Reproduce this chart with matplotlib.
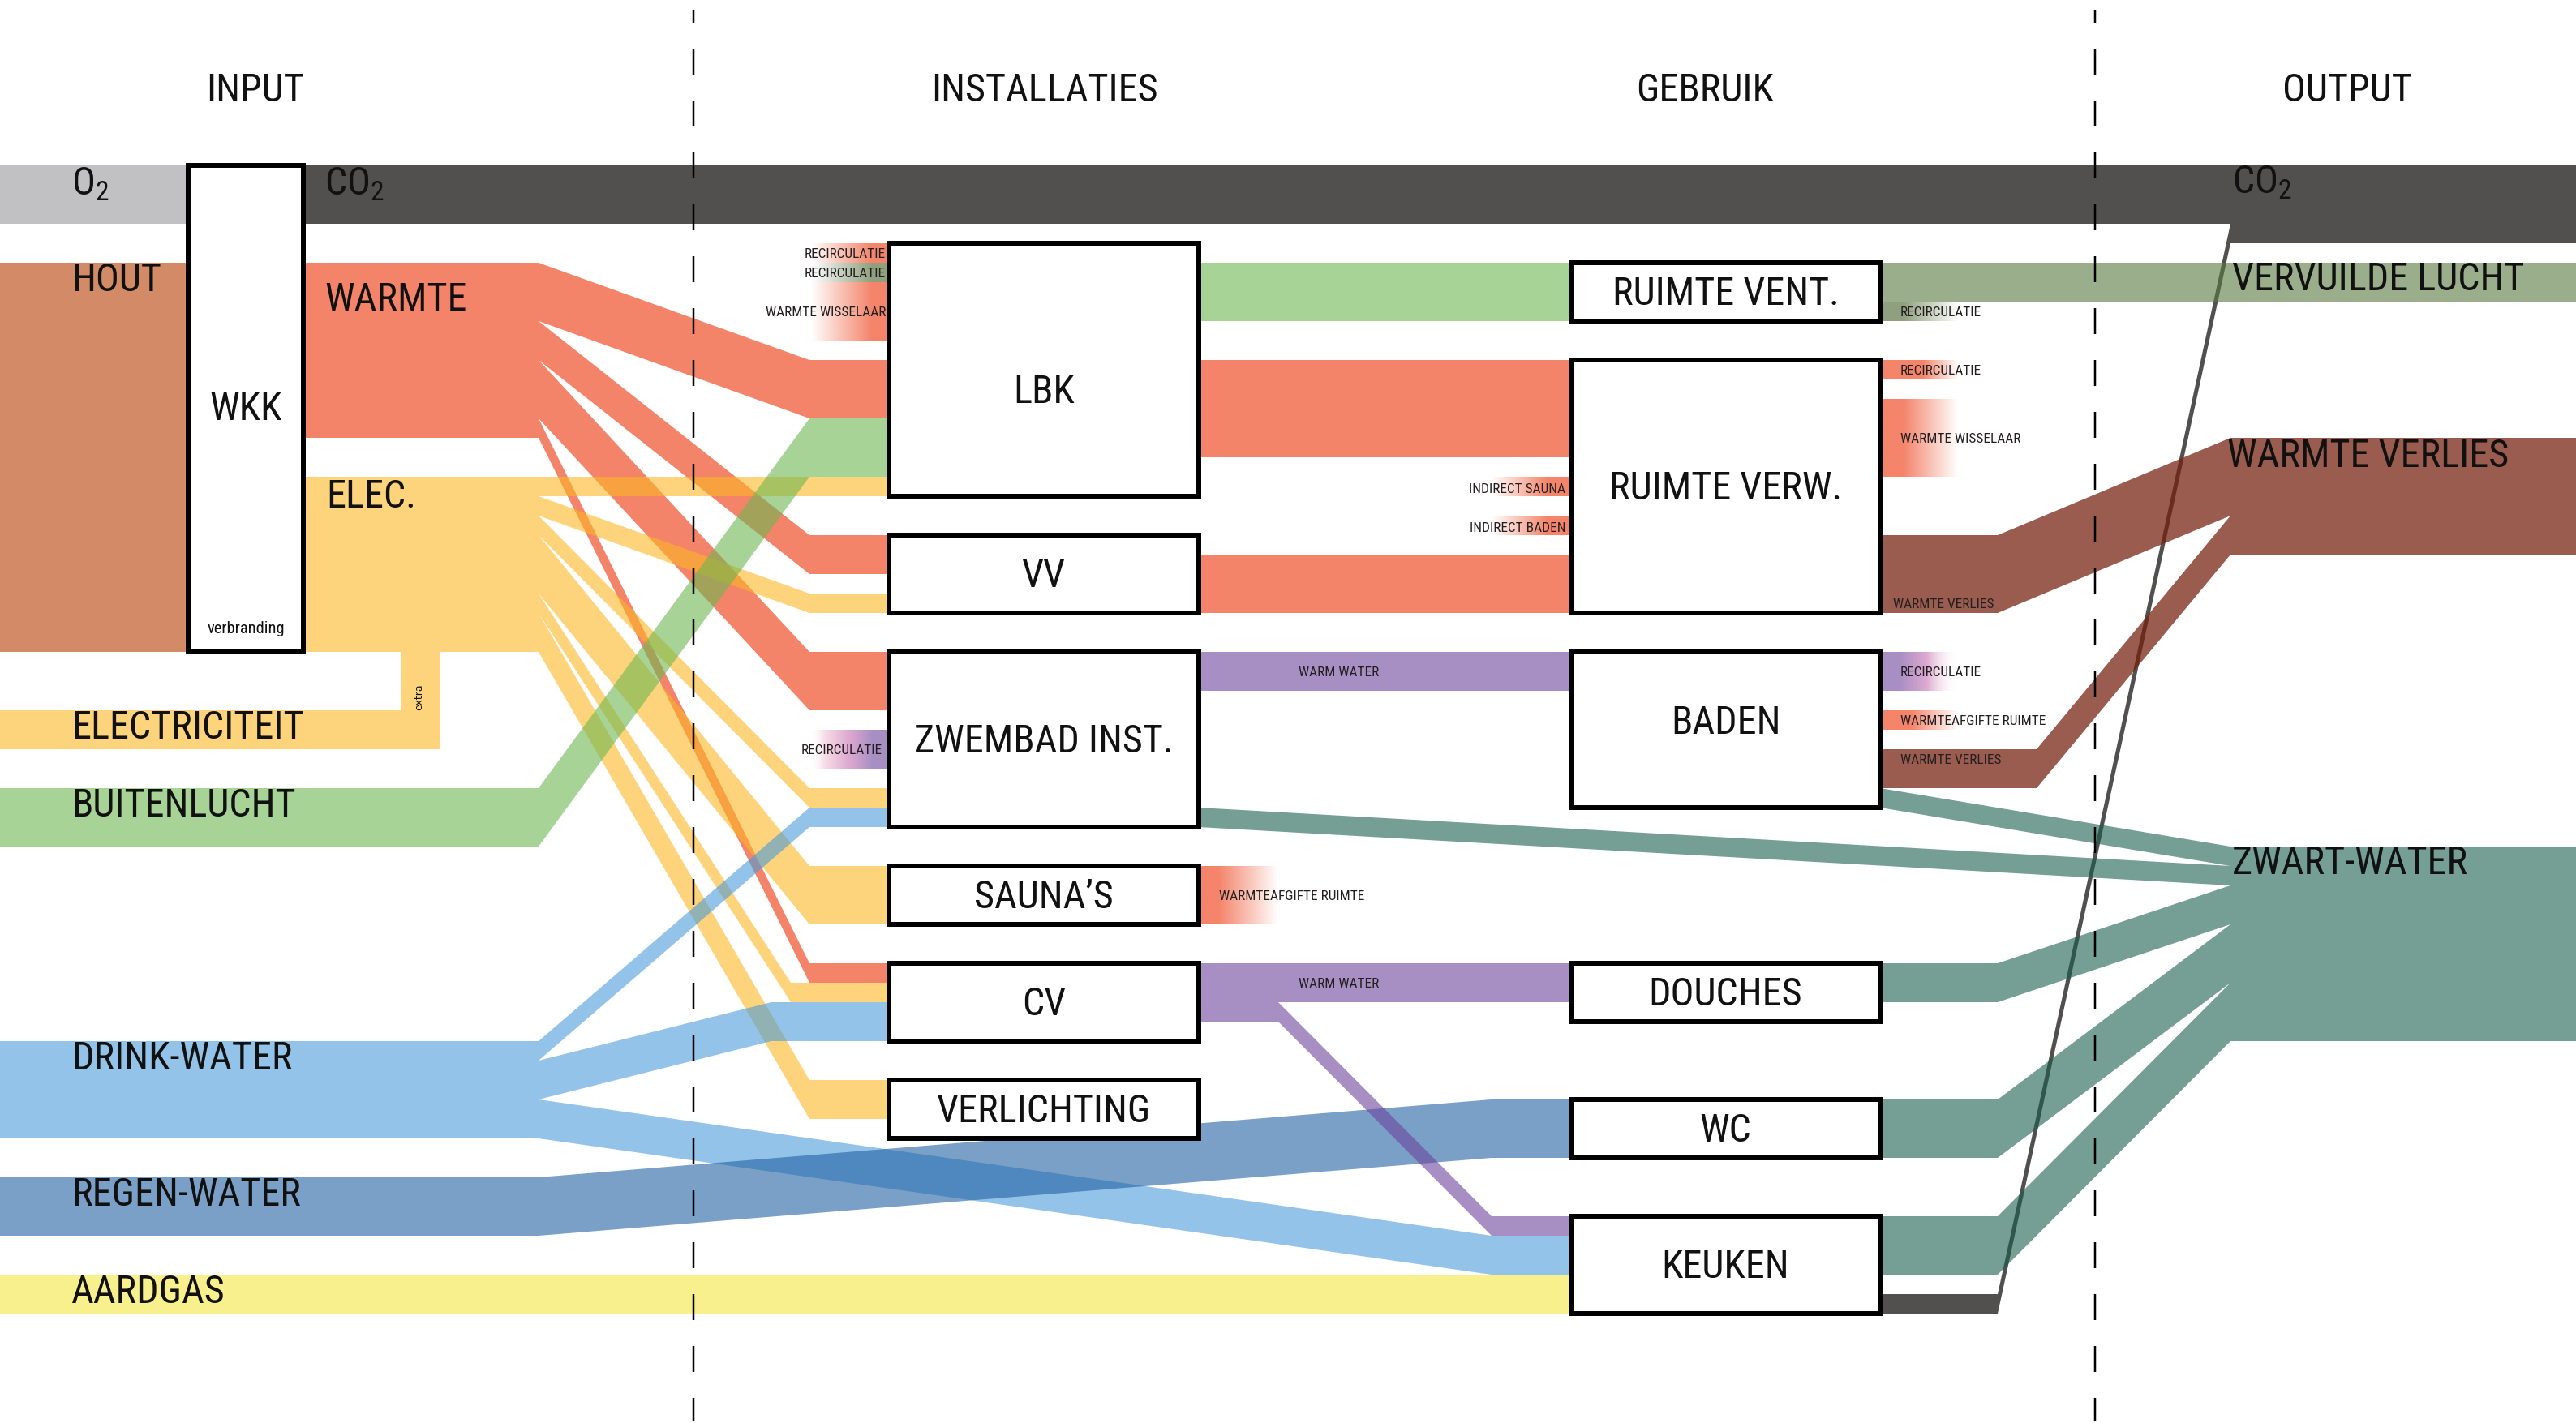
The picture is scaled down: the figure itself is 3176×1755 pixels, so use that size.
import numpy as np
import matplotlib
matplotlib.use("Agg")
import matplotlib.pyplot as plt
import matplotlib.colors as mcolors
from matplotlib.path import Path
from matplotlib.patches import PathPatch, Rectangle
from matplotlib import font_manager as fm

# ======================= DATA (flow sizes in units) =======================
stages = ["INPUT", "INSTALLATIES", "GEBRUIK", "OUTPUT"]

input_names = ["O2", "HOUT", "ELECTRICITEIT", "BUITENLUCHT", "DRINK-WATER", "REGEN-WATER", "AARDGAS"]
input_sizes = [3, 20, 2, 3, 5, 3, 2]

wkk_out_names = ["CO2", "WARMTE", "ELEC."]
wkk_out_sizes = [3, 9, 9]

installaties = ["LBK", "VV", "ZWEMBAD INST.", "SAUNA\u2019S", "CV", "VERLICHTING"]
gebruik = ["RUIMTE VENT.", "RUIMTE VERW.", "BADEN", "DOUCHES", "WC", "KEUKEN"]

warmte_targets = ["LBK", "VV", "ZWEMBAD INST.", "CV"]
warmte_sizes = [3, 2, 3, 1]
elec_targets = ["LBK", "VV", "ZWEMBAD INST.", "SAUNA\u2019S", "CV", "VERLICHTING"]
elec_sizes = [1, 1, 1, 3, 1, 2]
drink_targets = ["ZWEMBAD INST.", "CV", "KEUKEN"]
drink_sizes = [1, 2, 2]

lbk_out_names = ["RUIMTE VENT.", "RUIMTE VERW."]
lbk_out_sizes = [3, 5]
vv_out_size = 3
zwembad_warm_water = 2
cv_warm_water_names = ["DOUCHES", "KEUKEN"]
cv_warm_water_sizes = [2, 1]

lbk_side_names = ["RECIRCULATIE", "RECIRCULATIE", "WARMTE WISSELAAR"]
lbk_side_sizes = [1, 1, 3]
zwembad_recirc = 2
verw_side_names = ["INDIRECT SAUNA", "INDIRECT BADEN"]
verw_side_sizes = [1, 1]
sauna_afgifte = 3
vent_out_names = ["VERVUILDE LUCHT", "RECIRCULATIE"]
vent_out_sizes = [2, 1]
verw_out_names = ["RECIRCULATIE", "WARMTE WISSELAAR", "WARMTE VERLIES"]
verw_out_sizes = [1, 4, 4]
baden_out_names = ["RECIRCULATIE", "WARMTEAFGIFTE RUIMTE", "WARMTE VERLIES", "ZWART-WATER"]
baden_out_sizes = [2, 1, 2, 1]

zwart_sources = ["BADEN", "ZWEMBAD INST.", "DOUCHES", "WC", "KEUKEN"]
zwart_sizes = [1, 1, 2, 3, 3]
verlies_sources = ["RUIMTE VERW.", "BADEN"]
verlies_sizes = [4, 2]
co2_sources = ["WKK", "KEUKEN"]
co2_sizes = [3, 1]

# ======================= LAYOUT =======================
U = 24.0      # pixels per unit
Y0 = 204.0    # top of row 0


def Y(r):
    return Y0 + r * U


X_L, X_WKK_L, X_WKK_R = 0, 232, 374
X_FAN = 664
X_ARR = 998
X_INST_L, X_INST_R = 1096, 1478
X_CVSPLIT = 1576
X_GEB_APP = 1839
X_GEB_L, X_GEB_R = 1937, 2318
X_OFAN, X_BFAN = 2463, 2511
X_OUT = 2750
X_R = 3176
X_EXTRA = 495
X_DASH = [855, 2583]

input_rows = [0, 5, 28, 32, 45, 52, 57]
wkk_rows = (0, 25)
wkk_out_rows = [0, 5, 16]
inst_rows = [(4, 17), (19, 23), (25, 34), (36, 39), (41, 45), (47, 50)]
geb_rows = [(5, 8), (10, 23), (25, 33), (41, 44), (48, 51), (54, 59)]
warmte_arrive_rows = [10, 19, 25, 41]
elec_arrive_rows = [16, 22, 32, 36, 42, 47]
elec_arrive_x = [X_ARR, X_ARR, X_ARR, X_ARR, 975, X_ARR]
drink_arrive_rows = [33, 43, 55]
drink_arrive_x = [X_ARR, 951, X_GEB_APP]
drink_end_x = [X_INST_L, X_INST_L, X_GEB_L]
lucht_arrive_row = 13
regen_arrive_row = 48
lbk_side_row = 4
zw_recirc_row = 29
verw_side_rows = [16, 18]
lbk_out_rows = [5, 10]
vv_out_row = 20
zw_ww_row = 25
cv_ww_row = 41
cv_keuken_row = 54
vent_out_row = 5
verw_out_rows = [10, 12, 19]
baden_out_rows = [25, 28, 30, 32]
zwart_src_rows = [32, 33, 41, 48, 54]
zwart_src_x = [X_GEB_R, X_INST_R, X_GEB_R, X_GEB_R, X_GEB_R]
zwart_out_row = 35
verlies_src_rows = [19, 30]
verlies_fan_x = [X_OFAN, X_BFAN]
verlies_out_row = 14
keuken_co2_row = 58

COL = dict(o2="#C1C2C4", co2="#52514F", hout="#D38A68", warmte="#F4846A",
           elec="#FED37C", lucht="#A7D496", drink="#93C3E8", regen="#7AA0C7",
           gas="#F8F08C", purple="#A78FC4", vuil="#9BAE8C", verlies="#9A5D4E",
           zwart="#759E94")

# ======================= FONTS =======================
avail = {f.name for f in fm.fontManager.ttflist}
if "Liberation Sans Narrow" in avail:
    FONT, K = "Liberation Sans Narrow", 1.05
elif "Roboto Condensed" in avail:
    FONT, K = "Roboto Condensed", 1.05
else:
    FONT, K = "Liberation Sans", 0.88
plt.rcParams["font.family"] = [FONT, "DejaVu Sans"]
plt.rcParams["lines.scale_dashes"] = False
FS_BIG = 33 * K
FS_SMALL = 11.8 * K
TXT = "#111111"
SMALL_TXT = "#231F20"

# ======================= FIGURE =======================
fig = plt.figure(figsize=(31.76, 17.55), dpi=100)
ax = fig.add_axes([0, 0, 1, 1])
ax.set_xlim(0, 3176)
ax.set_ylim(1755, 0)
ax.axis("off")


def mult_like(hexcol, amin=0.6):
    t = np.array(mcolors.to_rgb(hexcol))
    a = min(1.0, max(amin, 1 - t.min() + 0.03))
    c = np.clip((t - (1 - a)) / a, 0, 1)
    return (*c, a)


def ribbon(route, size):
    top = [(x, Y(r)) for x, r in route]
    bot = [(x, Y(r + size)) for x, r in route[::-1]]
    return top + bot


polys = {}


def add(key, size, route):
    polys.setdefault(key, []).append(ribbon(route, size))


# --- inputs into WKK and WKK outputs
add("o2", input_sizes[0], [(X_L, input_rows[0]), (X_WKK_L, input_rows[0])])
add("hout", input_sizes[1], [(X_L, input_rows[1]), (X_WKK_L, input_rows[1])])
add("co2", wkk_out_sizes[0], [(X_WKK_R, wkk_out_rows[0]), (X_R, wkk_out_rows[0])])
add("warmte", wkk_out_sizes[1], [(X_WKK_R, wkk_out_rows[1]), (X_FAN, wkk_out_rows[1])])
add("elec", wkk_out_sizes[2], [(X_WKK_R, wkk_out_rows[2]), (X_FAN, wkk_out_rows[2])])

# --- ELECTRICITEIT (L-shape feeding ELEC. as "extra")
w_ex = input_sizes[2] * U
r_el = input_rows[2]
elec_bottom = wkk_out_rows[2] + wkk_out_sizes[2]
polys.setdefault("elec", []).append([
    (X_L, Y(r_el)), (X_EXTRA, Y(r_el)), (X_EXTRA, Y(elec_bottom)),
    (X_EXTRA + w_ex, Y(elec_bottom)), (X_EXTRA + w_ex, Y(r_el + input_sizes[2])),
    (X_L, Y(r_el + input_sizes[2]))])

# --- WARMTE branches
r = wkk_out_rows[1]
for s, ra in zip(warmte_sizes, warmte_arrive_rows):
    add("warmte", s, [(X_FAN, r), (X_ARR, ra), (X_INST_L, ra)])
    r += s
# --- ELEC branches
r = wkk_out_rows[2]
for s, ra, xa in zip(elec_sizes, elec_arrive_rows, elec_arrive_x):
    add("elec", s, [(X_FAN, r), (xa, ra), (X_INST_L, ra)])
    r += s
# --- BUITENLUCHT
add("lucht", input_sizes[3], [(X_L, input_rows[3]), (X_FAN, input_rows[3]),
                              (X_ARR, lucht_arrive_row), (X_INST_L, lucht_arrive_row)])
# --- DRINK-WATER
add("drink", input_sizes[4], [(X_L, input_rows[4]), (X_FAN, input_rows[4])])
r = input_rows[4]
for s, ra, xa, xe in zip(drink_sizes, drink_arrive_rows, drink_arrive_x, drink_end_x):
    add("drink", s, [(X_FAN, r), (xa, ra), (xe, ra)])
    r += s
# --- REGEN-WATER
add("regen", input_sizes[5], [(X_L, input_rows[5]), (X_FAN, input_rows[5]),
                              (X_GEB_APP, regen_arrive_row), (X_GEB_L, regen_arrive_row)])
# --- AARDGAS
add("gas", input_sizes[6], [(X_L, input_rows[6]), (X_GEB_L, input_rows[6])])

# --- INSTALLATIES -> GEBRUIK
add("lucht", lbk_out_sizes[0], [(X_INST_R, lbk_out_rows[0]), (X_GEB_L, lbk_out_rows[0])])
add("warmte", lbk_out_sizes[1], [(X_INST_R, lbk_out_rows[1]), (X_GEB_L, lbk_out_rows[1])])
add("warmte", vv_out_size, [(X_INST_R, vv_out_row), (X_GEB_L, vv_out_row)])
add("purple", zwembad_warm_water, [(X_INST_R, zw_ww_row), (X_GEB_L, zw_ww_row)])
add("purple", cv_warm_water_sizes[0], [(X_INST_R, cv_ww_row), (X_GEB_L, cv_ww_row)])
r_ck = cv_ww_row + cv_warm_water_sizes[0]
add("purple", cv_warm_water_sizes[1], [(X_INST_R, r_ck), (X_CVSPLIT, r_ck),
                                       (X_GEB_APP, cv_keuken_row), (X_GEB_L, cv_keuken_row)])

# --- GEBRUIK -> OUTPUT
add("vuil", vent_out_sizes[0], [(X_GEB_R, vent_out_row), (X_R, vent_out_row)])
r = verlies_out_row
for s, rs, xf in zip(verlies_sizes, verlies_src_rows, verlies_fan_x):
    add("verlies", s, [(X_GEB_R, rs), (xf, rs), (X_OUT, r), (X_R, r)])
    r += s
r = zwart_out_row
for s, rs, xs in zip(zwart_sizes, zwart_src_rows, zwart_src_x):
    if xs == X_GEB_R and s > 1:
        route = [(xs, rs), (X_OFAN, rs), (X_OUT, r), (X_R, r)]
    else:
        route = [(xs, rs), (X_OUT, r), (X_R, r)]
    add("zwart", s, route)
    r += s
r_co2 = wkk_out_rows[0] + co2_sizes[0]
add("co2", co2_sizes[1], [(X_GEB_R, keuken_co2_row), (X_OFAN, keuken_co2_row),
                          (X_OUT, r_co2), (X_R, r_co2)])

order = ["o2", "hout", "co2", "vuil", "verlies", "zwart", "warmte", "elec",
         "lucht", "drink", "regen", "gas", "purple"]
for i, key in enumerate(order):
    verts, codes = [], []
    for p in polys.get(key, []):
        verts += p + [p[0]]
        codes += [Path.MOVETO] + [Path.LINETO] * (len(p) - 1) + [Path.CLOSEPOLY]
    if verts:
        ax.add_patch(PathPatch(Path(verts, codes), facecolor=mult_like(COL[key]),
                               edgecolor="none", lw=0, zorder=1 + i * 0.01))


# ======================= GRADIENT STUBS =======================
def rgba(c, a=1.0):
    return mcolors.to_rgba(c, a)


def gradient(x0, x1, r0, size, stops, z=1.5):
    n = 256
    f = np.linspace(0, 1, n)
    pos = [p for p, _ in stops]
    cols = np.array([c for _, c in stops])
    img = np.empty((1, n, 4))
    for k in range(4):
        img[0, :, k] = np.interp(f, pos, cols[:, k])
    ax.imshow(img, extent=(x0, x1, Y(r0 + size), Y(r0)), aspect="auto",
              interpolation="bilinear", zorder=z)


def fade_in(c, solid=0.8):
    return [(0, rgba(c, 0)), (solid, rgba(c, 1)), (1, rgba(c, 1))]


def fade_out(c, solid=0.3):
    return [(0, rgba(c, 1)), (solid, rgba(c, 1)), (1, rgba(c, 0))]


REC_GREEN = "#8FA07F"
PINK = "#DDA9D0"
# LBK left side
r = lbk_side_row
for s, c in zip(lbk_side_sizes, [COL["warmte"], REC_GREEN, COL["warmte"]]):
    gradient(1000, X_INST_L, r, s, fade_in(c, 0.78))
    r += s
# ZWEMBAD recirculatie
gradient(X_ARR, X_INST_L, zw_recirc_row, zwembad_recirc,
         [(0, rgba("white", 0)), (0.2, rgba("#F6DCE4")), (0.5, rgba(PINK)),
          (0.8, rgba(COL["purple"])), (1, rgba(COL["purple"]))])
# RUIMTE VERW indirect
for s, rr in zip(verw_side_sizes, verw_side_rows):
    gradient(X_GEB_APP, X_GEB_L, rr, s, fade_in(COL["warmte"], 0.7))
# SAUNA warmteafgifte
gradient(X_INST_R, X_CVSPLIT, inst_rows[3][0], sauna_afgifte, fade_out(COL["warmte"], 0.25))
# RUIMTE VENT recirculatie
X_STUB = 2414
gradient(X_GEB_R, X_STUB, vent_out_row + vent_out_sizes[0], vent_out_sizes[1],
         fade_out(REC_GREEN, 0.3))
# RUIMTE VERW right
gradient(X_GEB_R, X_STUB, verw_out_rows[0], verw_out_sizes[0], fade_out(COL["warmte"], 0.55))
gradient(X_GEB_R, X_STUB, verw_out_rows[1], verw_out_sizes[1], fade_out(COL["warmte"], 0.3))
# BADEN right
gradient(X_GEB_R, X_STUB, baden_out_rows[0], baden_out_sizes[0],
         [(0, rgba(COL["purple"])), (0.25, rgba(COL["purple"])), (0.6, rgba(PINK)),
          (1, rgba("white", 0))])
gradient(X_GEB_R, X_STUB, baden_out_rows[1], baden_out_sizes[1], fade_out(COL["warmte"], 0.4))

# ======================= BOXES =======================
BOX_LW = 4.3


def box(x0, x1, r0, r1):
    ax.add_patch(Rectangle((x0, Y(r0)), x1 - x0, Y(r1) - Y(r0), facecolor="white",
                           edgecolor="black", lw=BOX_LW, zorder=3, joinstyle="miter"))


box(X_WKK_L, X_WKK_R, *wkk_rows)
for rr in inst_rows:
    box(X_INST_L, X_INST_R, *rr)
for rr in geb_rows:
    box(X_GEB_L, X_GEB_R, *rr)

# ======================= DASHED SEPARATORS =======================
px = 0.72  # points per pixel at dpi 100
for xd in X_DASH:
    ax.plot([xd, xd], [12, 1752], color="black", lw=2.5 * px,
            linestyle=(16 * px, (32 * px, 32 * px)), zorder=4, solid_capstyle="butt",
            dash_capstyle="butt")


# ======================= TEXT =======================
def T(x, y, s, fs=FS_BIG, ha="left", va="baseline", **kw):
    ax.text(x, y, s, fontsize=fs, ha=ha, va=va, color=kw.pop("color", TXT), zorder=5, **kw)


# stage headers
for s, xh in zip(stages, [314, 1288, 2102, 2894]):
    T(xh, 125, s, ha="center")

LB = 35  # baseline below band top
sub2 = "$_\\mathregular{2}$"
X_LAB = 88
T(X_LAB, Y(input_rows[0]) + LB + 1, "O" + sub2)
for name, rr in zip(input_names[1:], input_rows[1:]):
    T(X_LAB, Y(rr) + LB, name)
T(400, Y(wkk_out_rows[0]) + LB + 1, "CO" + sub2)
T(400, Y(wkk_out_rows[1]) + 59, wkk_out_names[1])
T(402, Y(wkk_out_rows[2]) + 38, wkk_out_names[2])
T((X_WKK_L + X_WKK_R) / 2, 518, "WKK", ha="center")
T((X_WKK_L + X_WKK_R) / 2, 781, "verbranding", fs=14 * K, ha="center")
ax.text(X_EXTRA + w_ex / 2 - 2, 860, "extra", fontsize=9, family="DejaVu Sans",
        rotation=90, ha="center", va="center", color=TXT, zorder=5)

# box labels
inst_offsets = [41, 16, 16, 16, 16, 16]
for name, (r0, r1), off in zip(installaties, inst_rows, inst_offsets):
    T((X_INST_L + X_INST_R) / 2, (Y(r0) + Y(r1)) / 2 + off, name, ha="center")
geb_offsets = [16, 16, 5, 16, 16, 16]
for name, (r0, r1), off in zip(gebruik, geb_rows, geb_offsets):
    T((X_GEB_L + X_GEB_R) / 2, (Y(r0) + Y(r1)) / 2 + off, name, ha="center")

# output labels
X_OLAB = 2752
T(X_OLAB, Y(0) + LB - 1, "CO" + sub2)
T(X_OLAB, Y(vent_out_row) + LB - 1, "VERVUILDE LUCHT")
T(X_OLAB - 6, Y(verlies_out_row) + LB + 1, "WARMTE VERLIES")
T(X_OLAB, Y(zwart_out_row) + LB - 1, "ZWART-WATER")


# small labels
def S(x, r0, size, s, ha="left", dy=0):
    T(x, (Y(r0) + Y(r0 + size)) / 2 + 5.5 + dy, s, fs=FS_SMALL, ha=ha, color=SMALL_TXT)


r = lbk_side_row
for s, name in zip(lbk_side_sizes, lbk_side_names):
    S(X_INST_L - 4, r, s, name, ha="right")
    r += s
S(X_INST_L - 8, zw_recirc_row, zwembad_recirc, "RECIRCULATIE", ha="right")
for s, rr, name in zip(verw_side_sizes, verw_side_rows, verw_side_names):
    S(X_GEB_L - 7, rr, s, name, ha="right", dy=2)
S(1503, inst_rows[3][0], sauna_afgifte, "WARMTEAFGIFTE RUIMTE")
S(1601, zw_ww_row, zwembad_warm_water, "WARM WATER")
S(1601, cv_ww_row, cv_warm_water_sizes[0], "WARM WATER")
X_RS = X_GEB_R + 25
S(X_RS, vent_out_row + vent_out_sizes[0], vent_out_sizes[1], vent_out_names[1])
S(X_RS, verw_out_rows[0], verw_out_sizes[0], verw_out_names[0])
S(X_RS, verw_out_rows[1], verw_out_sizes[1], verw_out_names[1])
S(X_RS - 9, verw_out_rows[2] + 3, 1, verw_out_names[2])
S(X_RS, baden_out_rows[0], baden_out_sizes[0], baden_out_names[0])
S(X_RS, baden_out_rows[1], baden_out_sizes[1], baden_out_names[1])
S(X_RS, baden_out_rows[2], 1, baden_out_names[2])

fig.savefig("out.png", dpi=100)
